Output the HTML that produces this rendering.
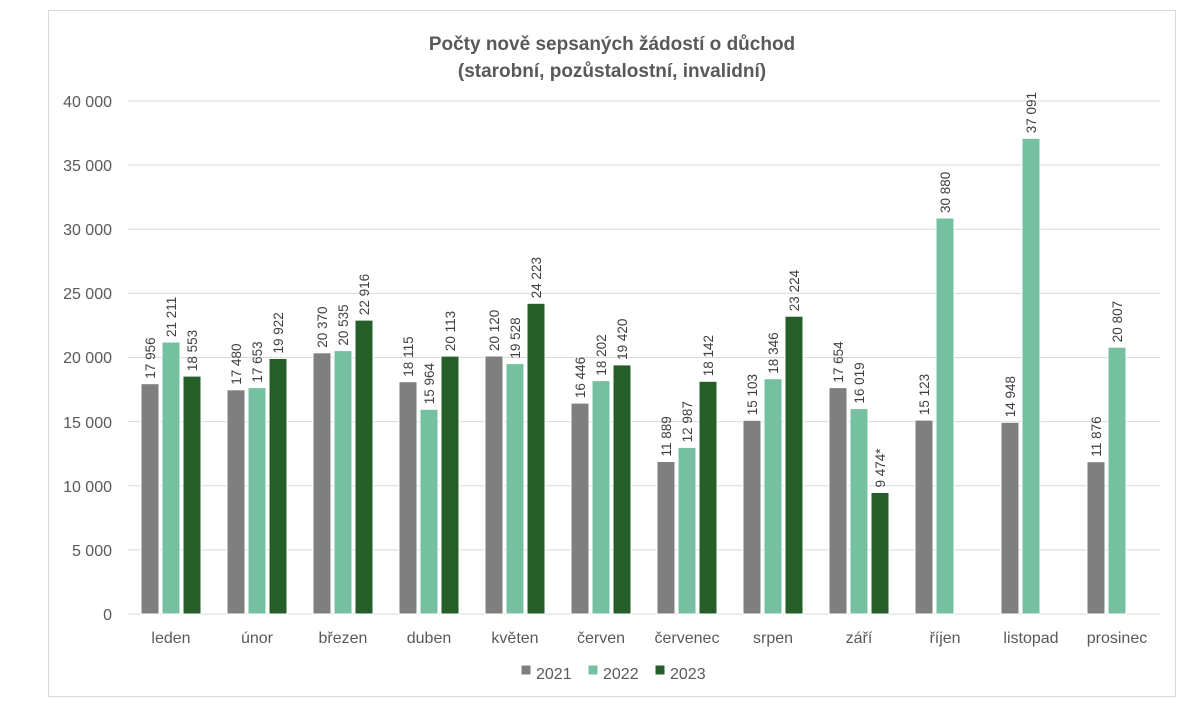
<!DOCTYPE html>
<html><head><meta charset="utf-8"><style>
body{margin:0;background:#fff;}
svg{display:block;font-family:"Liberation Sans",sans-serif;}
.a{fill:#7f7f7f}.b{fill:#75c0a0}.c{fill:#265e2a}
rect.a,rect.b,rect.c{stroke:#fff;stroke-width:1}
.l{font-size:13.5px;fill:#404040}
.t{font-size:16px;fill:#595959}
</style></head><body>
<svg width="1200" height="716" xmlns="http://www.w3.org/2000/svg">
<rect x="48.5" y="10.5" width="1127" height="686" fill="#fff" stroke="#d9d9d9"/>
<text x="612" y="50" text-anchor="middle" font-size="19" font-weight="bold" fill="#595959">Počty nově sepsaných žádostí o důchod</text>
<text x="612" y="77" text-anchor="middle" font-size="19" font-weight="bold" fill="#595959">(starobní, pozůstalostní, invalidní)</text>
<g stroke="#d9d9d9">
<line x1="128" x2="1160" y1="101" y2="101"/><line x1="128" x2="1160" y1="165.1" y2="165.1"/><line x1="128" x2="1160" y1="229.3" y2="229.3"/><line x1="128" x2="1160" y1="293.4" y2="293.4"/><line x1="128" x2="1160" y1="357.5" y2="357.5"/><line x1="128" x2="1160" y1="421.6" y2="421.6"/><line x1="128" x2="1160" y1="485.8" y2="485.8"/><line x1="128" x2="1160" y1="549.9" y2="549.9"/><line x1="128" x2="1160" y1="614" y2="614"/>
</g>
<g class="t" text-anchor="end">
<text x="112" y="107">40 000</text><text x="112" y="171">35 000</text><text x="112" y="235">30 000</text><text x="112" y="299">25 000</text><text x="112" y="363">20 000</text><text x="112" y="428">15 000</text><text x="112" y="492">10 000</text><text x="112" y="556">5 000</text><text x="112" y="620">0</text>
</g>
<g class="t" text-anchor="middle">
<text x="171" y="643">leden</text><text x="257" y="643">únor</text><text x="343" y="643">březen</text><text x="429" y="643">duben</text><text x="515" y="643">květen</text><text x="601" y="643">červen</text><text x="687" y="643">červenec</text><text x="773" y="643">srpen</text><text x="859" y="643">září</text><text x="945" y="643">říjen</text><text x="1031" y="643">listopad</text><text x="1117" y="643">prosinec</text>
</g>
<g>
<rect class="a" x="141" y="383.7" width="18" height="230.3"/><rect class="b" x="162" y="342" width="18" height="272"/><rect class="c" x="183" y="376.1" width="18" height="237.9"/>
<rect class="a" x="227" y="389.8" width="18" height="224.2"/><rect class="b" x="248" y="387.6" width="18" height="226.4"/><rect class="c" x="269" y="358.5" width="18" height="255.5"/>
<rect class="a" x="313" y="352.8" width="18" height="261.2"/><rect class="b" x="334" y="350.6" width="18" height="263.4"/><rect class="c" x="355" y="320.1" width="18" height="293.9"/>
<rect class="a" x="399" y="381.7" width="18" height="232.3"/><rect class="b" x="420" y="409.3" width="18" height="204.7"/><rect class="c" x="441" y="356.1" width="18" height="257.9"/>
<rect class="a" x="485" y="356" width="18" height="258"/><rect class="b" x="506" y="363.6" width="18" height="250.4"/><rect class="c" x="527" y="303.3" width="18" height="310.7"/>
<rect class="a" x="571" y="403.1" width="18" height="210.9"/><rect class="b" x="592" y="380.6" width="18" height="233.4"/><rect class="c" x="613" y="364.9" width="18" height="249.1"/>
<rect class="a" x="657" y="461.5" width="18" height="152.5"/><rect class="b" x="678" y="447.4" width="18" height="166.6"/><rect class="c" x="699" y="381.3" width="18" height="232.7"/>
<rect class="a" x="743" y="420.3" width="18" height="193.7"/><rect class="b" x="764" y="378.7" width="18" height="235.3"/><rect class="c" x="785" y="316.2" width="18" height="297.8"/>
<rect class="a" x="829" y="387.6" width="18" height="226.4"/><rect class="b" x="850" y="408.6" width="18" height="205.4"/><rect class="c" x="871" y="492.5" width="18" height="121.5"/>
<rect class="a" x="915" y="420.1" width="18" height="193.9"/><rect class="b" x="936" y="218" width="18" height="396"/>
<rect class="a" x="1001" y="422.3" width="18" height="191.7"/><rect class="b" x="1022" y="138.3" width="18" height="475.7"/>
<rect class="a" x="1087" y="461.7" width="18" height="152.3"/><rect class="b" x="1108" y="347.2" width="18" height="266.8"/>
</g>
<g class="l">
<text transform="translate(155,378.7) rotate(-90)">17 956</text><text transform="translate(176,337) rotate(-90)">21 211</text><text transform="translate(197,371.1) rotate(-90)">18 553</text>
<text transform="translate(241,384.8) rotate(-90)">17 480</text><text transform="translate(262,382.6) rotate(-90)">17 653</text><text transform="translate(283,353.5) rotate(-90)">19 922</text>
<text transform="translate(327,347.8) rotate(-90)">20 370</text><text transform="translate(348,345.6) rotate(-90)">20 535</text><text transform="translate(369,315.1) rotate(-90)">22 916</text>
<text transform="translate(413,376.7) rotate(-90)">18 115</text><text transform="translate(434,404.3) rotate(-90)">15 964</text><text transform="translate(455,351.1) rotate(-90)">20 113</text>
<text transform="translate(499,351) rotate(-90)">20 120</text><text transform="translate(520,358.6) rotate(-90)">19 528</text><text transform="translate(541,298.3) rotate(-90)">24 223</text>
<text transform="translate(585,398.1) rotate(-90)">16 446</text><text transform="translate(606,375.6) rotate(-90)">18 202</text><text transform="translate(627,359.9) rotate(-90)">19 420</text>
<text transform="translate(671,456.5) rotate(-90)">11 889</text><text transform="translate(692,442.4) rotate(-90)">12 987</text><text transform="translate(713,376.3) rotate(-90)">18 142</text>
<text transform="translate(757,415.3) rotate(-90)">15 103</text><text transform="translate(778,373.7) rotate(-90)">18 346</text><text transform="translate(799,311.2) rotate(-90)">23 224</text>
<text transform="translate(843,382.6) rotate(-90)">17 654</text><text transform="translate(864,403.6) rotate(-90)">16 019</text><text transform="translate(885,487.5) rotate(-90)">9 474*</text>
<text transform="translate(929,415.1) rotate(-90)">15 123</text><text transform="translate(950,213) rotate(-90)">30 880</text>
<text transform="translate(1015,417.3) rotate(-90)">14 948</text><text transform="translate(1036,133.3) rotate(-90)">37 091</text>
<text transform="translate(1101,456.7) rotate(-90)">11 876</text><text transform="translate(1122,342.2) rotate(-90)">20 807</text>
</g>
<rect class="a" x="521" y="665" width="10" height="10"/><text class="t" x="536" y="679">2021</text>
<rect class="b" x="588" y="665" width="10" height="10"/><text class="t" x="603" y="679">2022</text>
<rect class="c" x="655" y="665" width="10" height="10"/><text class="t" x="670" y="679">2023</text>
</svg>
</body></html>
